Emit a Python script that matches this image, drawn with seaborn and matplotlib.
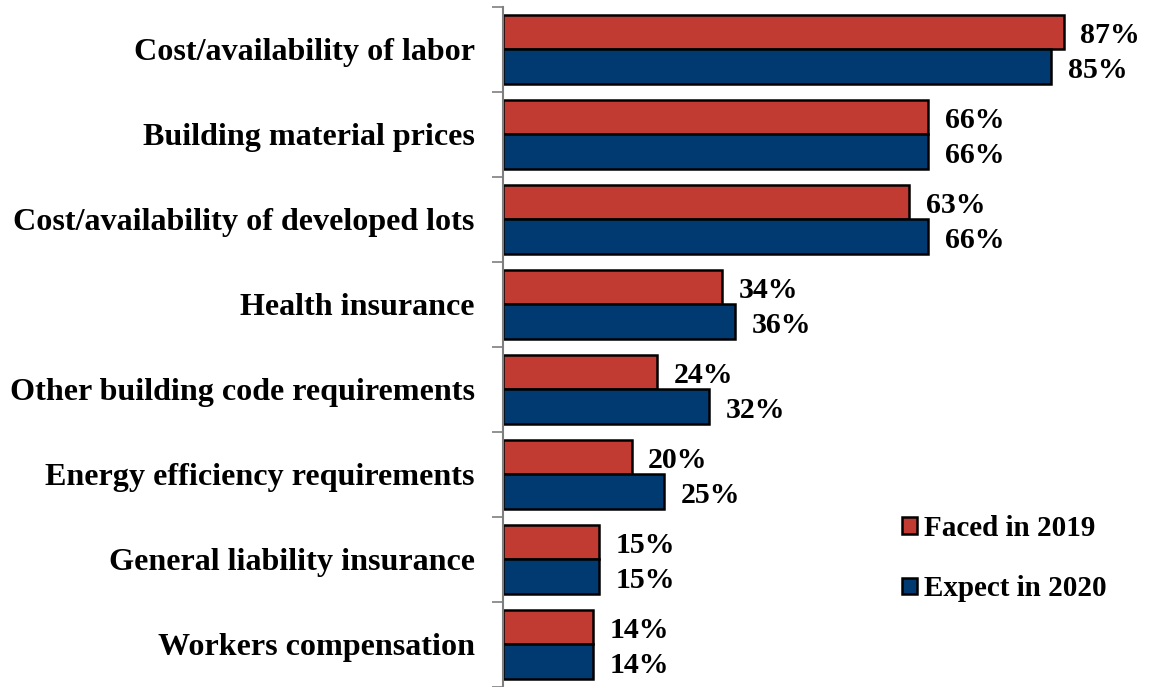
import numpy as np
import pandas as pd
import matplotlib
matplotlib.use("Agg")
import matplotlib.pyplot as plt
import seaborn as sns

categories = ["Cost/availability of labor", "Building material prices",
              "Cost/availability of developed lots", "Health insurance",
              "Other building code requirements", "Energy efficiency requirements",
              "General liability insurance", "Workers compensation"]
faced_2019 = [87, 66, 63, 34, 24, 20, 15, 14]
expect_2020 = [85, 66, 66, 36, 32, 25, 15, 14]
series = ["Faced in 2019", "Expect in 2020"]

df = pd.DataFrame({
    "cat": categories * 2,
    "val": faced_2019 + expect_2020,
    "series": [series[0]] * len(categories) + [series[1]] * len(categories),
})

sns.set_theme(style="white")
plt.rcParams['font.family'] = ['Liberation Serif', 'DejaVu Serif']
plt.rcParams['font.weight'] = 'bold'
plt.rcParams['text.color'] = 'black'
plt.rcParams['ytick.color'] = 'black'

fig = plt.figure(figsize=(11.5, 6.87), dpi=100)
ax = fig.add_axes([0.437, 0.0, 0.561, 0.99])

sns.barplot(data=df, y="cat", x="val", hue="series", orient="h",
            palette=["#C23B33", "#003A70"], saturation=1, width=0.81,
            edgecolor="black", linewidth=1.8, ax=ax)

ax.set_xlim(0, 100)
ax.set_ylim(7.5, -0.5)
ax.set_xlabel("")
ax.set_ylabel("")
ax.set_xticks([])
ax.tick_params(axis="y", which="major", length=0, pad=20, labelsize=23.1, labelcolor="black")
for t in ax.get_yticklabels():
    t.set_fontweight("bold")
ax.set_yticks(np.arange(-0.5, 8, 1), minor=True)
ax.tick_params(axis="y", which="minor", left=True, length=8, width=1.2,
               color="#7f7f7f", direction="out")

for s in ["top", "right", "bottom"]:
    ax.spines[s].set_visible(False)
ax.spines["left"].set_color("#7f7f7f")
ax.spines["left"].set_linewidth(1.5)

for cont in ax.containers:
    anns = ax.bar_label(cont, fmt="%d%%", padding=12, fontsize=21.5, fontweight="bold", color="black")
    for a in anns:
        a.xyann = (12, -2.5)

ax.legend(loc="lower right", bbox_to_anchor=(0.985, 0.085), bbox_transform=fig.transFigure,
          frameon=False, prop={"size": 21, "weight": "bold"},
          handlelength=0.5, handleheight=0.5, handletextpad=0.25, labelspacing=1.15)

fig.savefig("out.png", dpi=100)
